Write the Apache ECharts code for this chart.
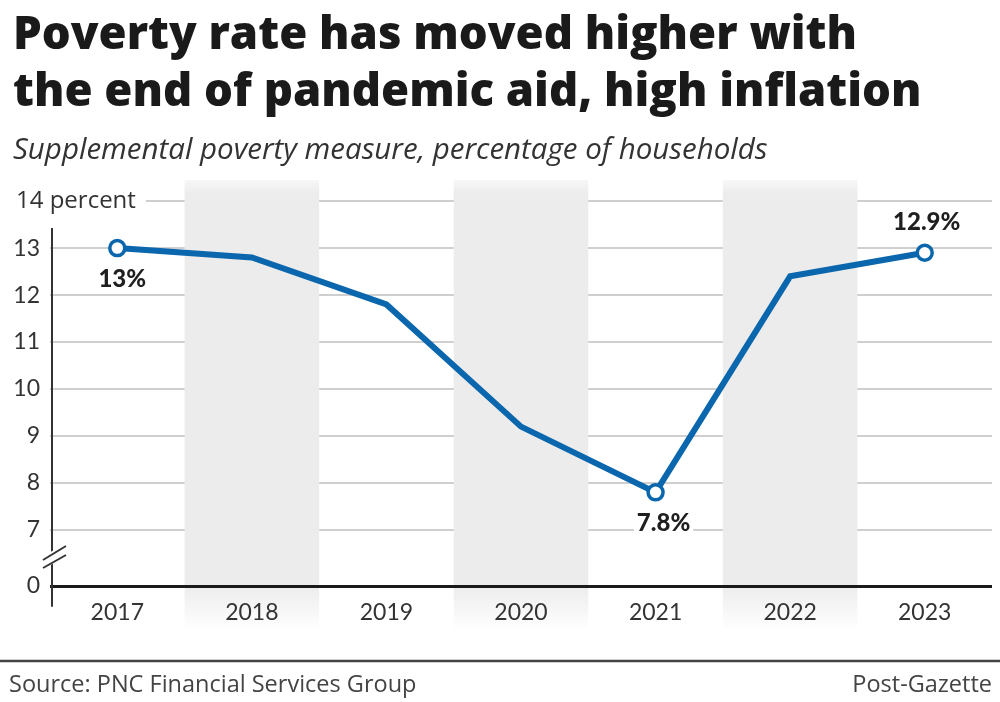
<!DOCTYPE html>
<html>
<head>
<meta charset="utf-8">
<script src="https://cdn.jsdelivr.net/npm/echarts@6/dist/echarts.min.js"></script>
<style>
html,body{margin:0;padding:0;background:#fff;}
#chart{width:1000px;height:702px;}
</style>
</head>
<body>
<div id="chart"></div>
<script>
// ---- data ----
const categories = ['2017', '2018', '2019', '2020', '2021', '2022', '2023'];
const povertyRate = [13, 12.8, 11.8, 9.2, 7.8, 12.4, 12.9];
const labeledPoints = [0, 4, 6];            // indices with circle markers + labels
const labelSide = ['bottom', 'bottom', 'top'];
const yTicks = [7, 8, 9, 10, 11, 12, 13, 14];
const zeroDisplay = 5.81;                    // where "0" sits after the axis break
const yMin = 4.87, yMax = 14.45;

const titleText = 'Poverty rate has moved higher with\nthe end of pandemic aid, high inflation';
const subtitleText = 'Supplemental poverty measure, percentage of households';
const sourceText = 'Source: PNC Financial Services Group';
const creditText = 'Post-Gazette';

const BLUE = '#0a66ad';
const FONT = 'Lato, "Noto Sans", sans-serif';
const WIDE = '"Open Sans", "Noto Sans", sans-serif';

const seriesData = povertyRate.map((v, i) => {
  const k = labeledPoints.indexOf(i);
  if (k < 0) return { value: v, symbol: 'none' };
  return {
    value: v,
    symbol: 'circle',
    symbolSize: 15,
    label: {
      show: true,
      position: labelSide[k],
      distance: labelSide[k] === 'top' ? 9 : 10,
      offset: i === 0 ? [5, 0] : (i === 4 ? [8, 0] : [2, 0])
    }
  };
});

const bandGradient = new echarts.graphic.LinearGradient(0, 0, 0, 1, [
  { offset: 0, color: '#f7f7f7' },
  { offset: 0.03, color: '#ececec' },
  { offset: 0.9, color: '#ececec' },
  { offset: 1, color: '#ffffff' }
]);

const chart = echarts.init(document.getElementById('chart'), null, { renderer: 'canvas' });
const option = {
  backgroundColor: '#ffffff',
  animation: false,
  title: [
    {
      text: titleText,
      left: 8, top: 3,
      textStyle: { fontFamily: WIDE, fontWeight: 800, fontSize: 45.5, lineHeight: 57, color: '#1a1a1a' }
    },
    {
      text: subtitleText,
      left: 8, top: 131,
      textStyle: { fontFamily: WIDE, fontStyle: 'italic', fontWeight: 400, fontSize: 29.5, color: '#333' }
    }
  ],
  grid: { left: 50, right: 8, top: 180, bottom: 72, containLabel: false },
  xAxis: {
    type: 'category',
    data: categories,
    boundaryGap: true,
    axisLine: { show: false },
    axisTick: { show: false },
    axisLabel: {
      margin: -17, verticalAlign: 'middle',
      fontFamily: FONT, fontSize: 23, color: '#333'
    },
    splitLine: { show: false },
    splitArea: { show: true, areaStyle: { color: ['rgba(255,255,255,0)', bandGradient] } }
  },
  yAxis: {
    type: 'value',
    min: yMin, max: yMax,
    axisLine: { show: false },
    axisTick: { show: false, customValues: yTicks },
    axisLabel: {
      customValues: [zeroDisplay].concat(yTicks.slice(0, -1)),
      formatter: v => (v < yTicks[0] ? '0' : String(v)),
      margin: 10,
      fontFamily: FONT, fontSize: 23, color: '#333'
    },
    splitLine: { show: true, lineStyle: { color: '#cfcfcf', width: 2 } }
  },
  series: [{
    type: 'line',
    data: seriesData,
    lineStyle: { color: BLUE, width: 6, join: 'miter' },
    itemStyle: { color: '#fff', borderColor: BLUE, borderWidth: 3.5 },
    label: {
      fontFamily: FONT, fontWeight: 900, fontSize: 24, color: '#1f1f1f',
      formatter: p => p.value + '%',
      backgroundColor: '#fff', padding: [0, 3]
    },
    z: 5,
    markLine: {
      silent: true, symbol: 'none',
      label: { show: false },
      lineStyle: { color: '#1a1a1a', width: 3, type: 'solid' },
      data: [{ yAxis: zeroDisplay }]
    }
  }]
};
chart.setOption(option);

// decorations: y-axis line with break marks, "14 percent" label, footer rule and texts
const ax = 52;
const yTop = chart.convertToPixel({ yAxisIndex: 0 }, 13.43);
const yBottom = chart.convertToPixel({ yAxisIndex: 0 }, zeroDisplay) + 21;
const y14 = chart.convertToPixel({ yAxisIndex: 0 }, yTicks[yTicks.length - 1]);
chart.setOption({
  graphic: [
    { type: 'line', shape: { x1: ax, y1: yTop, x2: ax, y2: yBottom }, style: { stroke: '#333', lineWidth: 2 }, z: 10 },
    { type: 'polygon', shape: { points: [[40, 558], [70, 541], [70, 554], [40, 571]] }, style: { fill: '#fff' }, z: 11 },
    { type: 'line', shape: { x1: 43, y1: 560, x2: 66, y2: 546 }, style: { stroke: '#333', lineWidth: 2 }, z: 12 },
    { type: 'line', shape: { x1: 43, y1: 568, x2: 66, y2: 555 }, style: { stroke: '#333', lineWidth: 2 }, z: 12 },
    { type: 'text', left: 14, top: y14 - 14,
      style: { text: yTicks[yTicks.length - 1] + ' percent', font: '400 24px ' + WIDE, fill: '#333',
               backgroundColor: '#fff', padding: [2, 10, 2, 2] }, z: 12 },
    { type: 'line', shape: { x1: 0, y1: 661, x2: 1000, y2: 661 }, style: { stroke: '#444', lineWidth: 2.5 }, z: 10 },
    { type: 'text', left: 9, top: 673, style: { text: sourceText, font: '400 23.5px ' + WIDE, fill: '#444' }, z: 10 },
    { type: 'text', right: 8, top: 673, style: { text: creditText, font: '400 23.5px ' + WIDE, fill: '#444' }, z: 10 }
  ]
});
</script>
</body>
</html>
